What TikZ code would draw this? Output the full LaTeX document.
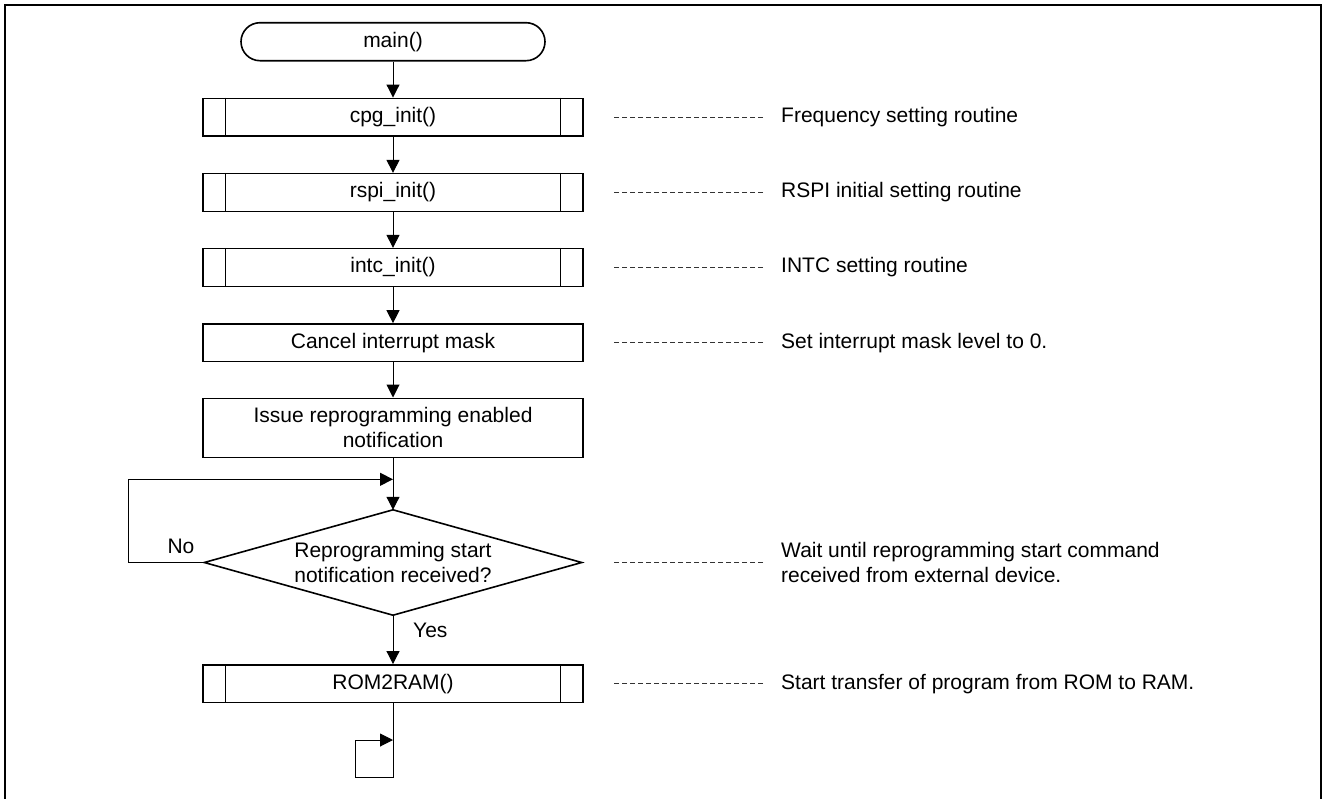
\documentclass[tikz,border=0pt]{standalone}
\usepackage{fontspec}
\setmainfont{Liberation Sans}
\usetikzlibrary{arrows.meta}

\begin{document}
\begin{tikzpicture}[x=1pt,y=-1pt,
  every node/.style={font=\fontsize{21}{25.3}\selectfont, inner sep=0pt, align=center},
  box/.style={draw, line width=1.6pt, minimum width=380pt, minimum height=37.7pt},
  term/.style={draw, line width=1.6pt, rounded corners=19pt, minimum width=304pt, minimum height=38pt},
  flow/.style={line width=1pt, -{Triangle[length=13pt,width=13pt]}},
  link/.style={line width=1pt},
  note/.style={line width=0.9pt, black!80, dash pattern=on 5pt off 3pt},
  remark/.style={anchor=west, align=left}
]
\useasboundingbox (0,0) rectangle (1325,798);
\clip (0,0) rectangle (1325,798);

% outer frame
\draw[line width=2pt] (5,5) rectangle (1321,812);

% flowchart column
\node[term] (main) at (393,41.7) {main()};
\node[box] (cpg)  at (393,117.2) {cpg\_init()};
\node[box] (rspi) at (393,192.5) {rspi\_init()};
\node[box] (intc) at (393,267.5) {intc\_init()};
\node[box] (mask) at (393,342.8) {Cancel interrupt mask};
\node[box, minimum height=59pt] (issue) at (393,427.8) {Issue reprogramming enabled\\notification};
\node[minimum width=377pt, minimum height=105pt] (dec) at (393,562.5) {Reprogramming start\\notification received?};
\draw[line width=1.6pt] (dec.north) -- (dec.east) -- (dec.south) -- (dec.west) -- cycle;
\node[box] (rom) at (393,683.7) {ROM2RAM()};

% side bars of the subroutine boxes
\foreach \n in {cpg,rspi,intc,rom}{
  \draw[line width=1.6pt] ([xshift=23.4pt]\n.north west) -- ([xshift=23.4pt]\n.south west);
  \draw[line width=1.6pt] ([xshift=-23.4pt]\n.north east) -- ([xshift=-23.4pt]\n.south east);
}

% connectors
\draw[flow] (main) -- (cpg);
\draw[flow] (cpg) -- (rspi);
\draw[flow] (rspi) -- (intc);
\draw[flow] (intc) -- (mask);
\draw[flow] (mask) -- (issue);
\coordinate (jn) at (393,479.3);
\draw[link] (issue) -- (jn);
\draw[flow] (jn) -- (dec.north);
\draw[flow] (dec.west) -- ++(-76,0) |- (jn);
\draw[flow] (dec.south) -- (rom.north);
\node (no) at (181,546.7) {No};
\node[anchor=west] (yes) at (413,630.7) {Yes};

% endless wait loop after the transfer
\coordinate (lb) at (393,777.3);
\coordinate (lt) at (393,740);
\draw[flow] (rom.south) -- (lb) -- ++(-37.3,0) |- (lt);

% remarks on the right
\node[remark] (r1) at (781,117.2) {Frequency setting routine};
\node[remark] (r2) at (781,192.5) {RSPI initial setting routine};
\node[remark] (r3) at (781,267.5) {INTC setting routine};
\node[remark] (r4) at (781,342.8) {Set interrupt mask level to 0.};
\node[remark] (r5) at (781,562.5) {Wait until reprogramming start command\\received from external device.};
\node[remark] (r6) at (781,683.7) {Start transfer of program from ROM to RAM.};
\foreach \r in {r1,r2,r3,r4,r5,r6}{
  \draw[note] ([xshift=-18pt]\r.west) -- ([xshift=-169pt]\r.west);
}
\end{tikzpicture}
\end{document}
